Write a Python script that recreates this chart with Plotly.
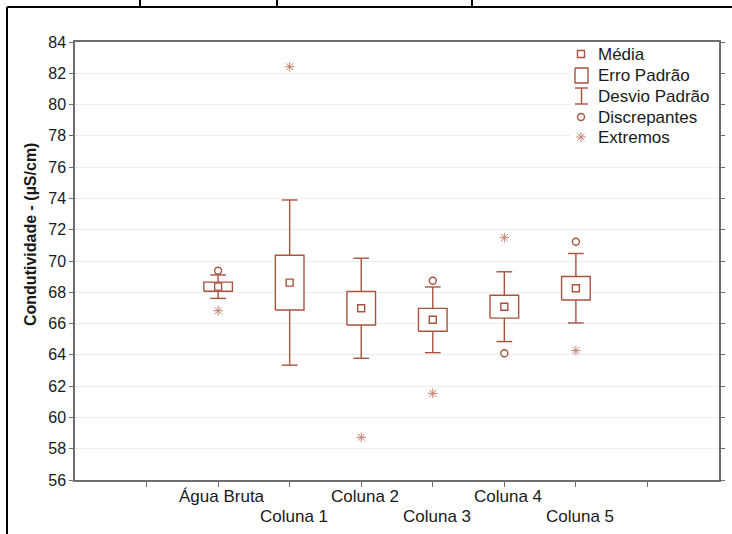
import plotly.graph_objects as go

# Categorias e estatísticas de condutividade (µS/cm)
categorias = ["Água Bruta", "Coluna 1", "Coluna 2", "Coluna 3", "Coluna 4", "Coluna 5"]
posicoes = [2, 3, 4, 5, 6, 7]
media = [68.36, 68.62, 66.98, 66.24, 67.08, 68.26]
erro_padrao = [0.29, 1.75, 1.07, 0.73, 0.73, 0.75]
desvio_padrao = [0.75, 5.28, 3.20, 2.10, 2.23, 2.22]

# Pontos discrepantes e extremos
discrep_x = [2, 5, 6, 7]
discrep_y = [69.38, 68.74, 64.10, 71.23]
extremo_x = [2, 3, 4, 5, 6, 7]
extremo_y = [66.82, 82.42, 58.73, 61.54, 71.49, 64.27]

legenda_itens = ["Média", "Erro Padrão", "Desvio Padrão", "Discrepantes", "Extremos"]

COR = "#a9533f"
COR_EXT = "#c47f70"
FONTE = "Liberation Sans, Arial, sans-serif"
TXT = "#1a1a1a"
W, H = 732, 534
ML, MR, MT, MB = 75, 13, 42, 54
PW, PH = W - ML - MR, H - MT - MB

MEIA_CAIXA = 0.2
MEIA_HASTE = 0.11

# Caixas (média ± erro padrão) e hastes (média ± desvio padrão)
bx, by, wx, wy = [], [], [], []
for p, m, se, sd in zip(posicoes, media, erro_padrao, desvio_padrao):
    x0, x1 = p - MEIA_CAIXA, p + MEIA_CAIXA
    bx += [x0, x1, x1, x0, x0, None]
    by += [m - se, m - se, m + se, m + se, m - se, None]
    c0, c1 = p - MEIA_HASTE, p + MEIA_HASTE
    wx += [p, p, None, c0, c1, None, p, p, None, c0, c1, None]
    wy += [m + se, m + sd, None, m + sd, m + sd, None,
           m - se, m - sd, None, m - sd, m - sd, None]

marca_media = dict(symbol="square", size=7, color="white", line=dict(color=COR, width=1.4))
marca_discrep = dict(symbol="circle", size=7, color="white", line=dict(color=COR, width=1.4))
marca_extremo = dict(symbol="asterisk-open", size=8, color=COR_EXT,
                     line=dict(color=COR_EXT, width=1))

fig = go.Figure()
fig.add_trace(go.Scatter(x=wx, y=wy, mode="lines", line=dict(color=COR, width=1.4),
                         hoverinfo="skip", showlegend=False))
fig.add_trace(go.Scatter(x=bx, y=by, mode="lines", line=dict(color=COR, width=1.4),
                         fill="toself", fillcolor="white", hoverinfo="skip", showlegend=False))
fig.add_trace(go.Scatter(x=posicoes, y=media, mode="markers", showlegend=False,
                         marker=marca_media))
fig.add_trace(go.Scatter(x=discrep_x, y=discrep_y, mode="markers", showlegend=False,
                         marker=marca_discrep))
fig.add_trace(go.Scatter(x=extremo_x, y=extremo_y, mode="markers", showlegend=False,
                         marker=marca_extremo))

# Legenda desenhada em um eixo sobreposto com coordenadas em pixels
lx, ltx = 581, 596
ly = [54, 75.5, 96, 117, 137]
leg = dict(xaxis="x2", yaxis="y2", showlegend=False, hoverinfo="skip")
fig.add_trace(go.Scatter(x=[570, 717, 717, 570, 570], y=[44, 44, 147, 147, 44],
                         mode="lines", fill="toself", fillcolor="white",
                         line=dict(width=0, color="white"), **leg))
fig.add_trace(go.Scatter(x=[lx], y=[ly[0]], mode="markers", marker=marca_media, **leg))
fig.add_trace(go.Scatter(x=[lx], y=[ly[3]], mode="markers", marker=marca_discrep, **leg))
fig.add_trace(go.Scatter(x=[lx], y=[ly[4]], mode="markers", marker=marca_extremo, **leg))
fig.add_trace(go.Scatter(x=[575, 588, 588, 575, 575], y=[68, 68, 83, 83, 68],
                         mode="lines", line=dict(color=COR, width=1.4), **leg))
fig.add_trace(go.Scatter(x=[575, 588, None, 581.5, 581.5, None, 575, 588],
                         y=[88, 88, None, 88, 104, None, 104, 104],
                         mode="lines", line=dict(color=COR, width=1.4), **leg))


def paper(x, y):
    return (x - ML) / PW, (H - MB - y) / PH


shapes = []
# moldura externa
for (xa, ya, xb, yb) in [(7, 7, 732, 7), (7, 7, 7, 534),
                         (140, 0, 140, 6), (277, 0, 277, 6), (472, 0, 472, 6)]:
    p0 = paper(xa, ya)
    p1 = paper(xb, yb)
    shapes.append(dict(type="line", xref="paper", yref="paper",
                       x0=p0[0], y0=p0[1], x1=p1[0], y1=p1[1],
                       line=dict(color="black", width=2)))

annotations = []
for i, t in enumerate(legenda_itens):
    annotations.append(dict(x=ltx, y=ly[i], xref="x2", yref="y2", text=t,
                            showarrow=False, xanchor="left", yanchor="middle",
                            font=dict(family=FONTE, size=17, color=TXT)))
# rótulos das categorias em duas linhas alternadas
for i, (p, t) in enumerate(zip(posicoes, categorias)):
    annotations.append(dict(x=p, y=0, xref="x", yref="paper", text=t,
                            showarrow=False, xanchor="center", yanchor="top",
                            xshift=4, yshift=-5 if i % 2 == 0 else -25,
                            font=dict(family=FONTE, size=17, color=TXT)))
# título do eixo y
annotations.append(dict(x=paper(31, 0)[0], y=paper(0, 235)[1], xref="paper", yref="paper",
                        text="<b>Condutividade - (µS/cm)</b>", textangle=-90,
                        showarrow=False, xanchor="center", yanchor="middle",
                        font=dict(family=FONTE, size=16, color=TXT)))

fig.update_layout(
    width=W, height=H,
    margin=dict(l=ML, r=MR, t=MT, b=MB, pad=0, autoexpand=False),
    paper_bgcolor="white", plot_bgcolor="white",
    showlegend=False,
    shapes=shapes,
    annotations=annotations,
    xaxis=dict(range=[0, 9], tickvals=list(range(1, 9)), showticklabels=False,
               ticks="outside", ticklen=5, tickcolor="#6e6e6e", tickwidth=1.3,
               showline=True, linecolor="#6e6e6e", linewidth=1.5, mirror=True,
               showgrid=False, zeroline=False, fixedrange=True, automargin=False),
    yaxis=dict(range=[56, 84], dtick=2, tick0=56, ticks="outside", ticklen=4,
               tickcolor="#6e6e6e", tickwidth=1.3,
               showline=True, linecolor="#6e6e6e", linewidth=1.5, mirror="allticks",
               showgrid=True, gridcolor="#ececec", gridwidth=1, zeroline=False,
               tickfont=dict(family=FONTE, size=16, color=TXT), fixedrange=True,
               automargin=False),
    xaxis2=dict(range=[ML, W - MR], overlaying="x", anchor="y2", visible=False,
                fixedrange=True, automargin=False),
    yaxis2=dict(range=[H - MB, MT], overlaying="y", anchor="x2", visible=False,
                fixedrange=True, automargin=False),
)

fig.write_html("out.html")
